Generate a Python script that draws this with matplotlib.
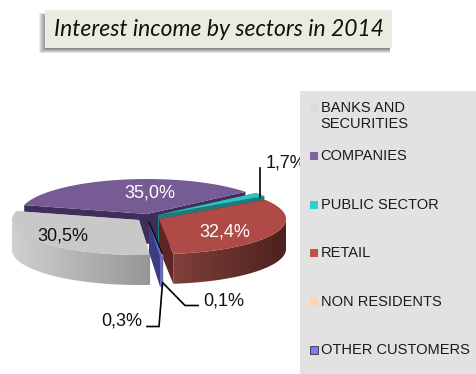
import numpy as np
import matplotlib
matplotlib.use("Agg")
import matplotlib.pyplot as plt
from matplotlib.patches import Polygon, Rectangle
from matplotlib.colors import to_rgb

categories = ["BANKS AND\nSECURITIES", "COMPANIES", "PUBLIC SECTOR", "RETAIL", "NON RESIDENTS", "OTHER CUSTOMERS"]
values = [30.5, 35.0, 1.7, 32.4, 0.1, 0.3]
title = "Interest income by sectors in 2014"

legend_colors = ["#dcdcdc", "#8064a2", "#2fcfcf", "#c0504d", "#fcd5b5", "#7a7aff"]
top_colors = ["#c8c8c8", "#775b94", "#2ec4c0", "#af4a47", "#f5cba8", "#6a6ae0"]
cut_colors = ["#c4c4c4", "#3f2d5c", "#1c7c7c", "#5e2624", "#a08a70", "#3d3d85"]
side_left = ["#d0d0d0", "#4a3668", "#1c7c7c", "#80403c", "#a08a70", "#6a6ad0"]
side_right = ["#969696", "#3f2d5c", "#1c7c7c", "#4d211e", "#a08a70", "#6a6ad0"]
offset_x = [-9, -1, 10, 11, 1, 1]
offset_y = [4, -2, -1, 3, 6, 6]

CX, CY = 148, 216
RX, RY, DEPTH = 127, 35, 30
START = -85

fig = plt.figure(figsize=(4.77, 3.74), dpi=100, facecolor="white")
ax = fig.add_axes([0, 0, 1, 1])

# Title card with a soft drop shadow
for i in range(14):
    g = i * 0.7
    ax.add_patch(Rectangle((45 - 6 + g, 13 + g * 0.4), 347 + 4 - g, 40 - g,
                           fc="#303030", ec="none", alpha=0.07, zorder=1))
ax.add_patch(Rectangle((45, 10), 347, 37.5, fc="#ecebe0", ec="none", zorder=2))
ax.text(54, 29.5, title, family="Lato", style="italic", fontsize=16.5,
        color="#111111", va="center", ha="left", zorder=3)

# Slice angles run clockwise from the front of the pie
sweeps = np.array(values) / sum(values) * 360
ends = START - np.cumsum(sweeps)
starts = ends + sweeps


def point(cx, cy, deg, drop=0.0):
    a = np.radians(deg)
    return cx + RX * np.cos(a), cy - RY * np.sin(a) + drop


def draw_slice(i, z):
    cx, cy = CX + offset_x[i], CY + offset_y[i]
    a0, a1 = starts[i], ends[i]
    # cut faces
    for a in (a0, a1):
        px, py = point(cx, cy, a)
        ax.add_patch(Polygon([(cx, cy), (px, py), (px, py + DEPTH), (cx, cy + DEPTH)],
                             fc=cut_colors[i], ec="none", zorder=z))
    # outer wall, shaded across its width
    angs = np.linspace(a0, a1, 160)
    visible = [a for a in angs if np.sin(np.radians(a)) <= 0.02]
    if len(visible) > 1:
        upper = [point(cx, cy, a) for a in visible]
        lower = [(x, y + DEPTH) for x, y in upper[::-1]]
        wall = Polygon(upper + lower, fc="none", ec="none", zorder=z)
        ax.add_patch(wall)
        xs = [p[0] for p in upper]
        ys = [p[1] for p in upper] + [p[1] for p in lower]
        lo, hi = min(xs), max(xs)
        c0, c1 = np.array(to_rgb(side_left[i])), np.array(to_rgb(side_right[i]))
        t = np.linspace(0, 1, 128)[:, None]
        ramp = (c0 + (c1 - c0) * t)[None, :, :]
        im = ax.imshow(ramp, extent=(lo, hi, max(ys), min(ys)), aspect="auto",
                       interpolation="bilinear", zorder=z)
        im.set_clip_path(wall)
    # top face
    arc = [point(cx, cy, a) for a in angs]
    ax.add_patch(Polygon([(cx, cy)] + arc, fc=top_colors[i], ec="none", zorder=z + 0.5))


for z, i in enumerate([1, 2, 3, 0, 4, 5]):
    draw_slice(i, 5 + z)

ax.set_xlim(0, 477)
ax.set_ylim(374, 0)
ax.axis("off")

# Value labels
fmt = [f"{v:.1f}%".replace(".", ",") for v in values]
label_font = dict(family="Liberation Sans", fontsize=13, va="center", zorder=20)
ax.text(63, 236, fmt[0], color="#111111", ha="center", **label_font)
ax.text(150, 193, fmt[1], color="white", ha="center", **label_font)
ax.text(266, 163, fmt[2], color="#111111", ha="left", **label_font)
ax.text(225, 232, fmt[3], color="white", ha="center", **label_font)
ax.text(203, 301, fmt[4], color="#111111", ha="left", **label_font)
ax.text(101, 321, fmt[5], color="#111111", ha="left", **label_font)

# Leader lines, plus the dark edge along the narrow slices
lead = dict(color="black", lw=1.2, zorder=19, solid_joinstyle="miter")
ax.plot([260, 260], [168, 197], **lead)
ax.plot([163, 185, 198], [283, 305.5, 305.5], **lead)
ax.plot([162.5, 159, 147], [283, 326.5, 326.5], **lead)
ax.plot([149, 162], [222, 253], color="black", lw=0.9, zorder=19)

# Legend panel
ax.add_patch(Rectangle((300, 91), 177, 283, fc="#e2e2e2", ec="none", zorder=30))
legend_y = [116, 156, 205, 253, 302, 350]
marker_y = [108, 156, 205, 253, 302, 350]
for name, col, y, my in zip(categories, legend_colors, legend_y, marker_y):
    ec = "#444444" if col == "#7a7aff" else "none"
    ax.add_patch(Rectangle((310, my - 4), 8, 8, fc=col, ec=ec, lw=0.7, zorder=31))
    ax.text(320.7, y, name, family="Liberation Sans", fontsize=10.5,
            color="#1a1a1a", va="center", ha="left", linespacing=1.2, zorder=31)

fig.savefig("out.png", dpi=100)
